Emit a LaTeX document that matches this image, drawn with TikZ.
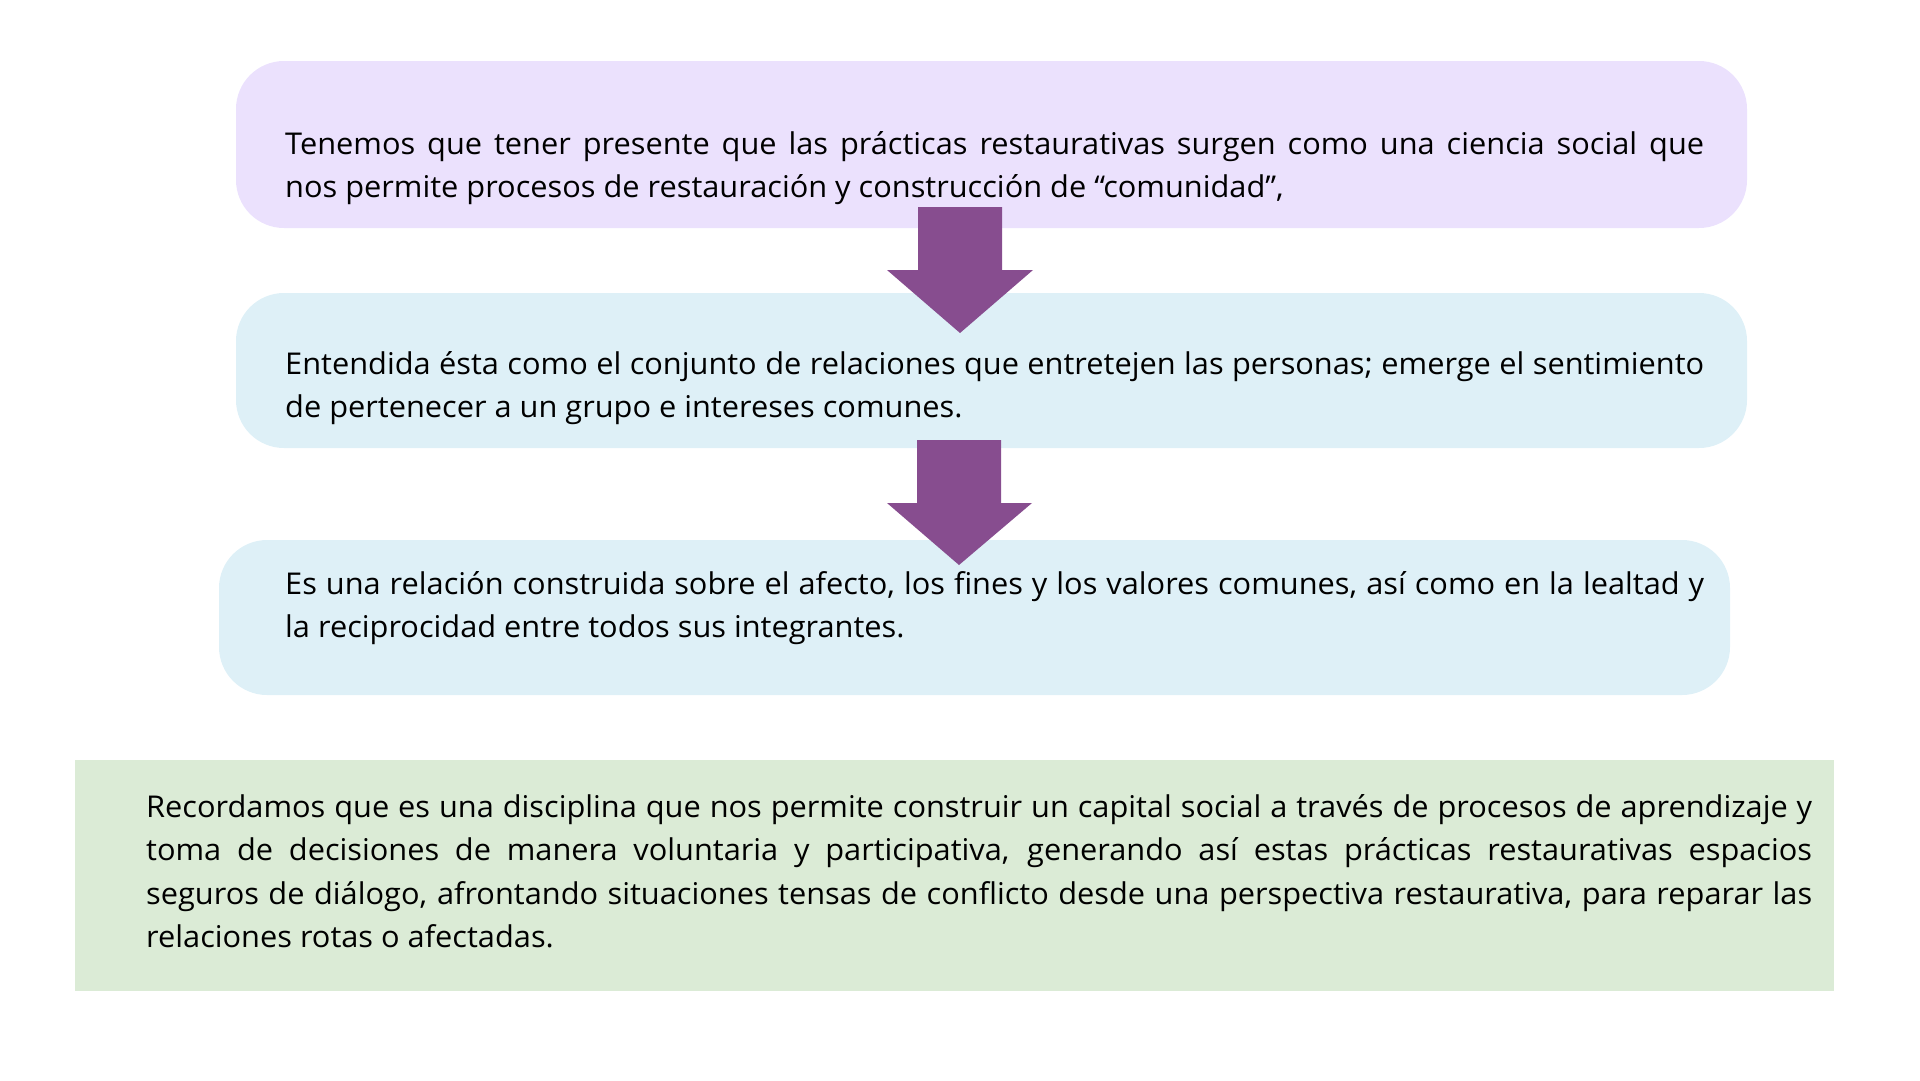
\documentclass[tikz,border=0pt]{standalone}
\usepackage{fontspec}
\setmainfont[FakeStretch=1.025]{Open Sans}
\definecolor{lav}{RGB}{235,225,253}
\definecolor{sky}{RGB}{222,240,247}
\definecolor{mint}{RGB}{219,235,214}
\definecolor{plum}{RGB}{135,77,143}
\tikzset{
  rbox/.style={draw=none, rounded corners=48pt, inner sep=0pt},
  txt/.style={anchor=base west, inner sep=0pt, align=justify,
    font={\fontsize{30}{43.5}\selectfont}, text=black},
  blockarrow/.style={fill=plum, draw=none}
}
\begin{document}
\begin{tikzpicture}[x=1pt,y=-1pt]
\useasboundingbox (0,0) rectangle (1920,1080);
% boxes
\fill[lav, rounded corners=48pt] (236,61) rectangle (1747,228);
\node[rbox] (b1) at (991.5,144.5) {};
\fill[sky, rounded corners=48pt] (236,293) rectangle (1747,448);
\node[rbox] (b2) at (991.5,370.5) {};
\fill[sky, rounded corners=48pt] (219,540) rectangle (1730,695);
\node[rbox] (b3) at (974.5,617.5) {};
\fill[mint] (75,760) rectangle (1834,991);
\node[rbox] (b4) at (954.5,875.5) {};
% texts
\node[txt, text width=1419pt] (t1) at (285,154) {Tenemos que tener presente que las prácticas restaurativas surgen como una ciencia social que\linebreak nos permite procesos de restauración y construcción de “comunidad”,};
\node[txt, text width=1419pt] (t2) at (285,374) {Entendida ésta como el conjunto de relaciones que entretejen las personas; emerge el sentimiento\linebreak de pertenecer a un grupo e intereses comunes.};
\node[txt, text width=1419pt] (t3) at (285,594) {Es una relación construida sobre el afecto, los fines y los valores comunes, así como en la lealtad y\linebreak la reciprocidad entre todos sus integrantes.};
\node[txt, text width=1666pt] (t4) at (146,817) {Recordamos que es una disciplina que nos permite construir un capital social a través de procesos de aprendizaje y\linebreak toma de decisiones de manera voluntaria y participativa, generando así estas prácticas restaurativas espacios\linebreak seguros de diálogo, afrontando situaciones tensas de conflicto desde una perspectiva restaurativa, para reparar las\linebreak relaciones rotas o afectadas.};
% arrows
\fill[blockarrow] (918,207) -- (1002,207) -- (1002,270) -- (1033,270) -- (960,333) -- (887,270) -- (918,270) -- cycle;
\fill[blockarrow] (917,440) -- (1001,440) -- (1001,503) -- (1032,503) -- (959,565) -- (887,503) -- (917,503) -- cycle;
\end{tikzpicture}
\end{document}
